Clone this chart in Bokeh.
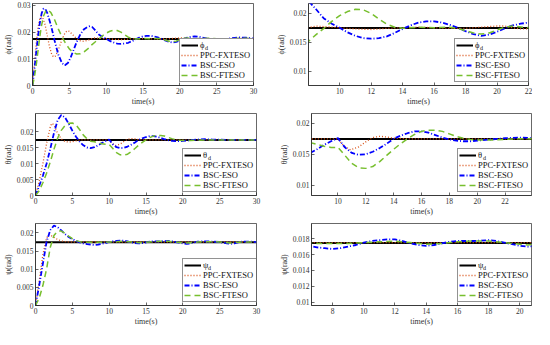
from bokeh.plotting import figure
from bokeh.models import Range1d, FixedTicker, NumeralTickFormatter, Legend, LegendItem
from bokeh.layouts import column, row
from bokeh.embed import file_html
from bokeh.resources import INLINE

# ---------------- data ----------------
ref_t = [0.0, 30.0]
ref_v = [0.01745, 0.01745]

# phi
phi_ppc_t = [0, 0.25, 0.5, 0.75, 1.0, 1.2, 1.4, 1.7, 2.0, 2.3, 2.6, 2.85, 3.1, 3.5, 4.0, 4.4, 4.7, 5.0, 5.5, 6.0, 6.5, 7.0, 7.5, 8.0, 8.5, 9.0, 10.0, 11.0, 12.0, 13.0, 14.0, 15.0, 16.0, 17.0, 18.0, 19.0, 20.0, 20.5, 21.0, 21.5, 22.0, 23.0, 24.0, 25.0, 26.0, 27.0, 28.0, 29.0, 30.0]
phi_ppc_v = [0, 0.0075, 0.0155, 0.0218, 0.0250, 0.0258, 0.0253, 0.0228, 0.0188, 0.0146, 0.0117, 0.0107, 0.0110, 0.0133, 0.0172, 0.0196, 0.0205, 0.0203, 0.0189, 0.0175, 0.0167, 0.0165, 0.0169, 0.0175, 0.0178, 0.0177, 0.0175, 0.0173, 0.0172, 0.0174, 0.0175, 0.0176, 0.0175, 0.0174, 0.0174, 0.0176, 0.0178, 0.0178, 0.0175, 0.0173, 0.0173, 0.0175, 0.0176, 0.0175, 0.0174, 0.0174, 0.0176, 0.0176, 0.0175]
phi_eso_t = [0, 0.25, 0.5, 0.75, 1.0, 1.25, 1.5, 1.75, 2.0, 2.5, 3.0, 3.5, 4.0, 4.4, 4.8, 5.2, 5.6, 6.0, 6.5, 7.0, 7.5, 7.8, 8.1, 8.5, 9.0, 9.5, 10.0, 10.5, 11.0, 11.5, 12.0, 12.5, 13.0, 13.5, 14.0, 14.5, 15.0, 15.5, 16.0, 16.5, 17.0, 17.5, 18.0, 18.5, 19.0, 19.5, 20.0, 20.5, 21.0, 21.5, 22.0, 22.5, 23.0, 24.0, 25.0, 26.0, 27.0, 28.0, 29.0, 30.0]
phi_eso_v = [0, 0.0060, 0.0122, 0.0185, 0.0236, 0.0271, 0.0288, 0.0286, 0.0272, 0.0226, 0.0168, 0.0116, 0.0084, 0.0076, 0.0084, 0.0106, 0.0135, 0.0163, 0.0192, 0.0211, 0.0220, 0.0222, 0.0219, 0.0207, 0.0191, 0.0182, 0.0175, 0.0167, 0.0161, 0.0157, 0.0156, 0.0157, 0.0160, 0.0166, 0.0173, 0.0179, 0.0184, 0.0186, 0.0186, 0.0184, 0.0180, 0.0175, 0.0169, 0.0164, 0.0161, 0.0163, 0.0168, 0.0174, 0.0179, 0.0182, 0.0184, 0.0183, 0.0180, 0.0174, 0.0170, 0.0172, 0.0177, 0.0180, 0.0179, 0.0176]
phi_fte_t = [0, 0.25, 0.5, 0.75, 1.0, 1.25, 1.5, 1.8, 2.1, 2.5, 3.0, 3.5, 4.0, 4.5, 5.0, 5.5, 6.0, 6.5, 7.0, 7.5, 8.0, 8.5, 9.0, 9.5, 10.0, 10.5, 11.0, 11.5, 12.0, 12.5, 13.0, 13.5, 14.0, 15.0, 16.0, 17.0, 17.5, 18.0, 18.5, 19.0, 19.5, 20.0, 20.5, 21.0, 22.0, 23.0, 24.0, 25.0, 26.0, 27.0, 28.0, 29.0, 30.0]
phi_fte_v = [0, 0.0030, 0.0075, 0.0130, 0.0185, 0.0228, 0.0260, 0.0279, 0.0283, 0.0273, 0.0246, 0.0212, 0.0182, 0.0157, 0.0137, 0.0124, 0.0118, 0.0119, 0.0126, 0.0137, 0.0151, 0.0163, 0.0174, 0.0186, 0.0196, 0.0203, 0.0207, 0.0206, 0.0200, 0.0190, 0.0181, 0.0176, 0.0174, 0.0176, 0.0175, 0.0176, 0.0174, 0.0170, 0.0166, 0.0164, 0.0166, 0.0171, 0.0176, 0.0178, 0.0175, 0.0176, 0.0177, 0.0175, 0.0173, 0.0174, 0.0177, 0.0177, 0.0175]

# theta
theta_ppc_t = [0, 0.5, 1.0, 1.5, 2.0, 2.2, 2.5, 3.0, 3.5, 4.0, 4.5, 5.0, 5.5, 6.0, 7.0, 8.0, 9.0, 10.0, 10.4, 10.9, 11.5, 12.0, 12.5, 13.0, 13.5, 14.0, 15.0, 20.0, 25.0, 30.0]
theta_ppc_v = [0, 0.0045, 0.0100, 0.0163, 0.0215, 0.0227, 0.0223, 0.0196, 0.0178, 0.0170, 0.0168, 0.0169, 0.0172, 0.0175, 0.0175, 0.0175, 0.0175, 0.0175, 0.0164, 0.0157, 0.0162, 0.0170, 0.0177, 0.0179, 0.0178, 0.0176, 0.0175, 0.0175, 0.0175, 0.0175]
theta_eso_t = [0, 0.5, 1.0, 1.5, 2.0, 2.5, 3.0, 3.5, 4.0, 4.5, 5.0, 5.5, 6.0, 6.5, 7.0, 7.5, 8.0, 8.5, 9.0, 9.5, 10.0, 10.5, 11.0, 11.5, 12.0, 12.5, 13.0, 13.5, 14.0, 14.5, 15.0, 15.5, 16.0, 16.5, 17.0, 17.5, 18.0, 18.5, 19.0, 19.5, 20.0, 21.0, 22.0, 23.0, 24.0, 26.0, 28.0, 30.0]
theta_eso_v = [0, 0.0030, 0.0062, 0.0100, 0.0146, 0.0196, 0.0237, 0.0253, 0.0246, 0.0226, 0.0204, 0.0185, 0.0169, 0.0158, 0.0151, 0.0149, 0.0152, 0.0158, 0.0165, 0.0171, 0.0176, 0.0161, 0.0152, 0.0149, 0.0150, 0.0154, 0.0160, 0.0167, 0.0175, 0.0180, 0.0184, 0.0187, 0.0187, 0.0185, 0.0181, 0.0177, 0.0174, 0.0172, 0.0171, 0.0171, 0.0172, 0.0174, 0.0176, 0.0177, 0.0176, 0.0175, 0.0175, 0.0175]
theta_fte_t = [0, 0.5, 1.0, 1.5, 2.0, 2.5, 3.0, 3.5, 4.0, 4.5, 5.0, 5.5, 6.0, 6.5, 7.0, 7.5, 8.0, 8.5, 9.0, 9.5, 10.0, 10.5, 11.0, 11.5, 12.0, 12.5, 13.0, 13.5, 14.0, 14.5, 15.0, 15.5, 16.0, 16.5, 17.0, 17.5, 18.0, 18.5, 19.0, 19.5, 20.0, 21.0, 22.0, 23.0, 24.0, 26.0, 28.0, 30.0]
theta_fte_v = [0, 0.0015, 0.0040, 0.0070, 0.0105, 0.0145, 0.0180, 0.0205, 0.0220, 0.0227, 0.0228, 0.0222, 0.0207, 0.0190, 0.0178, 0.0171, 0.0169, 0.0166, 0.0163, 0.0161, 0.0161, 0.0148, 0.0135, 0.0128, 0.0127, 0.0130, 0.0138, 0.0148, 0.0158, 0.0167, 0.0175, 0.0182, 0.0187, 0.0189, 0.0189, 0.0187, 0.0183, 0.0179, 0.0176, 0.0174, 0.0173, 0.0173, 0.0174, 0.0175, 0.0175, 0.0175, 0.0175, 0.0175]

# psi
psi_ppc_t = [0, 0.5, 1.0, 1.5, 1.8, 2.1, 2.5, 3.0, 3.5, 4.0, 5.0, 6.0, 10.0, 15.0, 20.0, 25.0, 30.0]
psi_ppc_v = [0, 0.0068, 0.0140, 0.0186, 0.0195, 0.0193, 0.0188, 0.0182, 0.0178, 0.0176, 0.0175, 0.0175, 0.0175, 0.0175, 0.0175, 0.0175, 0.0175]
psi_eso_t = [0, 0.5, 1.0, 1.5, 2.0, 2.5, 3.0, 3.5, 4.0, 4.5, 5.0, 5.5, 6.0, 6.5, 7.0, 7.5, 8.0, 8.5, 9.0, 9.5, 10.0, 10.5, 11.0, 11.5, 12.0, 12.5, 13.0, 13.5, 14.0, 14.5, 15.0, 15.5, 16.0, 17.0, 18.0, 18.5, 19.0, 19.5, 20.0, 20.5, 21.0, 21.5, 22.0, 23.0, 24.0, 25.0, 25.5, 26.0, 26.5, 27.0, 27.5, 28.0, 29.0, 30.0]
psi_eso_v = [0, 0.0055, 0.0115, 0.0175, 0.0208, 0.0220, 0.0216, 0.0207, 0.0197, 0.0189, 0.0183, 0.0178, 0.0174, 0.0171, 0.0169, 0.0168, 0.0167, 0.0168, 0.0170, 0.0172, 0.0175, 0.0177, 0.0178, 0.0179, 0.0179, 0.0177, 0.0174, 0.0172, 0.0171, 0.0172, 0.0174, 0.0176, 0.0177, 0.0177, 0.0178, 0.0177, 0.0175, 0.0173, 0.0171, 0.0170, 0.0171, 0.0174, 0.0176, 0.0177, 0.0176, 0.0175, 0.0173, 0.0171, 0.0170, 0.0171, 0.0174, 0.0176, 0.0176, 0.0175]
psi_fte_t = [0, 0.5, 1.0, 1.5, 2.0, 2.5, 3.0, 3.5, 4.0, 4.5, 5.0, 5.5, 6.0, 7.0, 8.0, 9.0, 10.0, 11.0, 12.0, 13.0, 14.0, 15.0, 16.0, 17.0, 18.0, 19.0, 20.0, 20.5, 21.0, 22.0, 23.0, 24.0, 25.0, 26.0, 26.5, 27.0, 28.0, 30.0]
psi_fte_v = [0, 0.0020, 0.0055, 0.0100, 0.0160, 0.0193, 0.0205, 0.0205, 0.0199, 0.0191, 0.0184, 0.0179, 0.0176, 0.0174, 0.0174, 0.0174, 0.0175, 0.0176, 0.0177, 0.0175, 0.0173, 0.0174, 0.0176, 0.0177, 0.0177, 0.0175, 0.0173, 0.0172, 0.0173, 0.0175, 0.0176, 0.0176, 0.0175, 0.0173, 0.0172, 0.0173, 0.0175, 0.0175]

# axes ticks / labels
x_ticks_full = [0, 5, 10, 15, 20, 25, 30]
x_ticks_phi_zoom = [10, 12, 14, 16, 18, 20, 22]
x_ticks_theta_zoom = [10, 12, 14, 16, 18, 20, 22]
x_ticks_psi_zoom = [8, 10, 12, 14, 16, 18, 20]
y_ticks_phi = [0, 0.01, 0.02, 0.03]
y_ticks_phi_zoom = [0.01, 0.015, 0.02]
y_ticks_theta = [0, 0.005, 0.01, 0.015, 0.02]
y_ticks_theta_zoom = [0.01, 0.015, 0.02]
y_ticks_psi = [0, 0.005, 0.01, 0.015, 0.02]
y_ticks_psi_zoom = [0.01, 0.012, 0.014, 0.016, 0.018]

legend_names = ["PPC-FXTESO", "BSC-ESO", "BSC-FTESO"]
ref_subscript = "d"
x_label = "time(s)"

# ---------------- styling ----------------
FONT = "Liberation Serif"
AX = "#262626"
TXT = "#333333"
C_REF = "#000000"
C_PPC = "#D95319"
C_ESO = "#0000FF"
C_FTE = "#77BF2E"


def panel(fw, fh, bl, br, bb, xr, yr, xt, yt, ylab, sym, data):
    p = figure(frame_width=fw, frame_height=fh, output_backend="svg", toolbar_location=None, tools="",
               x_range=Range1d(*xr), y_range=Range1d(*yr),
               min_border_left=bl, min_border_right=br, min_border_top=3, min_border_bottom=bb,
               background_fill_color="white", border_fill_color="white")
    p.xgrid.visible = False
    p.ygrid.visible = False
    p.outline_line_color = AX
    p.outline_line_width = 0.7
    for ax in (p.xaxis[0], p.yaxis[0]):
        ax.major_tick_in = 3
        ax.major_tick_out = 0
        ax.minor_tick_line_color = None
        ax.axis_line_color = AX
        ax.axis_line_width = 0.7
        ax.major_tick_line_color = AX
        ax.major_tick_line_width = 0.7
        ax.major_label_text_font = FONT
        ax.major_label_text_font_size = "7.5px"
        ax.major_label_text_color = TXT
        ax.axis_label_text_font = FONT
        ax.axis_label_text_font_size = "8px"
        ax.axis_label_text_font_style = "normal"
        ax.axis_label_text_color = TXT
        ax.major_label_standoff = 2
    p.xaxis[0].ticker = FixedTicker(ticks=xt)
    p.yaxis[0].ticker = FixedTicker(ticks=yt)
    p.yaxis[0].formatter = NumeralTickFormatter(format="0.[000]")
    p.xaxis[0].axis_label = x_label
    p.yaxis[0].axis_label = ylab
    p.xaxis[0].axis_label_standoff = 0
    p.yaxis[0].axis_label_standoff = 1

    (tp, vp), (te, ve), (tf, vf) = data
    r0 = p.line(ref_t, ref_v, line_color=C_REF, line_width=2)
    r1 = p.line(tp, vp, line_color=C_PPC, line_width=1.3, line_dash="1 2")
    r2 = p.line(te, ve, line_color=C_ESO, line_width=1.8, line_dash="5 2 1 2")
    r3 = p.line(tf, vf, line_color=C_FTE, line_width=1.5, line_dash="6 4")

    # legend of fixed width (label_width >= text width), right-aligned in the frame
    lw_text = 52
    lx, ly = fw - (1 + 17 + 2 + lw_text + 1) - 1, 3
    leg = Legend(items=[LegendItem(label=sym, renderers=[r0]),
                        LegendItem(label=legend_names[0], renderers=[r1]),
                        LegendItem(label=legend_names[1], renderers=[r2]),
                        LegendItem(label=legend_names[2], renderers=[r3])],
                 location=(lx, ly), padding=1, spacing=0, margin=0,
                 label_height=10, glyph_height=10, glyph_width=17, label_standoff=2,
                 label_width=lw_text,
                 label_text_font=FONT, label_text_font_size="8.5px", label_text_color="#111111",
                 border_line_color=AX, border_line_width=0.7, background_fill_alpha=1.0)
    p.add_layout(leg)
    # subscript of the reference symbol: a tiny transparent legend drawn over the first one
    sub = Legend(items=[LegendItem(label=ref_subscript, renderers=[r0])],
                 location=(lx + 26, ly + 31), padding=0, spacing=0, margin=0,
                 label_height=5, glyph_height=5, glyph_width=0, label_standoff=0, label_width=4,
                 label_text_font=FONT, label_text_font_size="6px", label_text_color="#111111",
                 border_line_alpha=0, background_fill_alpha=0)
    p.add_layout(sub)
    return p


phi_data = [(phi_ppc_t, phi_ppc_v), (phi_eso_t, phi_eso_v), (phi_fte_t, phi_fte_v)]
theta_data = [(theta_ppc_t, theta_ppc_v), (theta_eso_t, theta_eso_v), (theta_fte_t, theta_fte_v)]
psi_data = [(psi_ppc_t, psi_ppc_v), (psi_eso_t, psi_eso_v), (psi_fte_t, psi_fte_v)]

LF, RF, FH = 221, 220, 82
p1 = panel(LF, FH, 32, 14, 25, (0, 30), (0, 0.0307), x_ticks_full, y_ticks_phi, "ϕ(rad)", "ϕ", phi_data)
p2 = panel(RF, FH, 41, 4, 25, (8.02, 22), (0.0075, 0.0217), x_ticks_phi_zoom, y_ticks_phi_zoom, "ϕ(rad)", "ϕ", phi_data)
p3 = panel(LF, FH, 32, 14, 25, (0, 30), (0, 0.0258), x_ticks_full, y_ticks_theta, "θ(rad)", "θ", theta_data)
p4 = panel(RF, FH, 41, 4, 25, (8.1, 23.9), (0.0083, 0.0216), x_ticks_theta_zoom, y_ticks_theta_zoom, "θ(rad)", "θ", theta_data)
p5 = panel(LF, FH, 32, 14, 24, (0, 30), (0, 0.0226), x_ticks_full, y_ticks_psi, "ψ(rad)", "ψ", psi_data)
p6 = panel(RF, FH, 41, 4, 24, (6.65, 20.75), (0.0096, 0.0199), x_ticks_psi_zoom, y_ticks_psi_zoom, "ψ(rad)", "ψ", psi_data)

layout = column(row(p1, p2), row(p3, p4), row(p5, p6))
open("out.html", "w").write(file_html(layout, INLINE))
